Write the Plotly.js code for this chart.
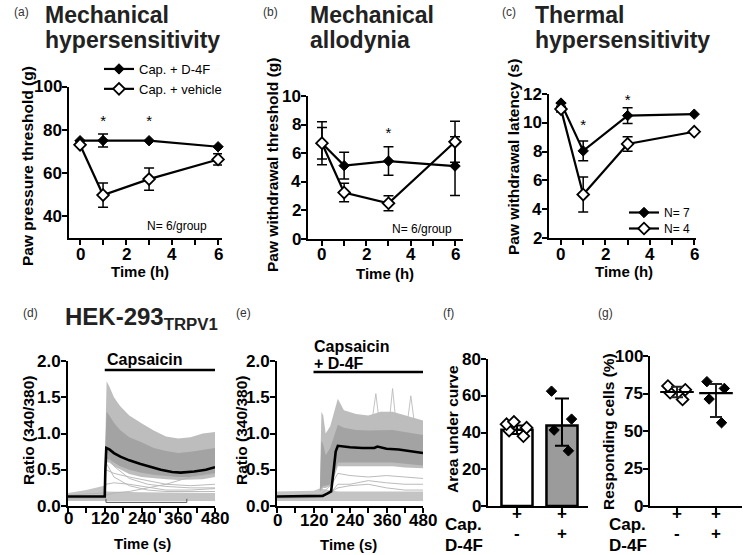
<!DOCTYPE html>
<html><head><meta charset="utf-8">
<script src="https://cdn.plot.ly/plotly-3.0.1.min.js"></script>
<style>html,body{margin:0;padding:0;background:#fff}#chart{width:744px;height:555px}</style>
</head><body><div id="chart"></div>
<script>
// ---------- DATA ----------
const timeH = [0, 1, 3, 6];
const hourTicks = [0, 2, 4, 6];

// (a) Mechanical hypersensitivity
const mhD4F = [75.1, 75.2, 75.1, 72.3];
const mhD4FErr = [null, 3.0, null, null];
const mhVeh = [73.2, 49.9, 57.3, 66.4];
const mhVehErr = [null, 5.6, 5.2, 2.6];
const mhStarX = [1, 3];
const mhStarY = [83.5, 83.5];
const mhTicks = [40, 60, 80, 100];

// (b) Mechanical allodynia
const maD4F = [6.7, 5.13, 5.45, 5.1];
const maD4FErr = [1.5, 0.93, 1.0, 2.05];
const maVeh = [6.7, 3.25, 2.5, 6.8];
const maVehErr = [1.1, 0.65, 0.52, 1.44];
const maStarX = [3];
const maStarY = [7.3];
const maTicks = [0, 2, 4, 6, 8, 10];

// (c) Thermal hypersensitivity
const thD4F = [11.37, 8.05, 10.5, 10.6];
const thD4FErr = [null, 0.68, 0.54, null];
const thVeh = [10.95, 5.02, 8.53, 9.38];
const thVehErr = [0.2, 1.22, 0.5, null];
const thStarX = [1, 3];
const thStarY = [9.75, 11.5];
const thTicks = [2, 4, 6, 8, 10, 12];

// (d) HEK-293 TRPV1, capsaicin
const secTicks = [0, 120, 240, 360, 480];
const ratioTicks = [0, 0.5, 1, 1.5, 2];
const ratioTickText = ['0.0', '0.5', '1.0', '1.5', '2.0'];
const tMeanD = [0, 120, 122, 125, 135, 150, 171, 200, 237, 270, 303, 340, 368, 412, 450, 480];
const meanD = [0.13, 0.13, 0.5, 0.8, 0.78, 0.73, 0.68, 0.63, 0.58, 0.54, 0.5, 0.47, 0.46, 0.475, 0.5, 0.535];
const bandDT = [122, 126, 135, 150, 170, 200, 240, 280, 320, 360, 400, 440, 480];
const bandDUp = [0.9, 1.72, 1.65, 1.5, 1.38, 1.25, 1.14, 1.04, 0.96, 0.93, 0.95, 1.0, 1.02];
const bandDLo = [0.5, 0.6, 0.6, 0.55, 0.5, 0.44, 0.4, 0.38, 0.37, 0.36, 0.36, 0.37, 0.4];
const coreDUp = [0.85, 1.3, 1.25, 1.15, 1.05, 0.95, 0.88, 0.8, 0.76, 0.73, 0.75, 0.78, 0.8];
const coreDLo = [0.55, 0.65, 0.64, 0.6, 0.55, 0.5, 0.46, 0.43, 0.41, 0.4, 0.4, 0.42, 0.45];
const baseDT = [0, 60, 118, 124, 240, 360, 480];
const baseDUp = [0.18, 0.22, 0.28, 0.2, 0.19, 0.18, 0.18];
const baseDLo = [0.07, 0.07, 0.07, 0.07, 0.07, 0.07, 0.07];
const sparseDT = [0, 118, 124, 150, 200, 260, 320, 400, 480];
const sparseD1 = [0.12, 0.14, 0.75, 0.55, 0.38, 0.3, 0.27, 0.25, 0.25];
const sparseD2 = [0.1, 0.12, 0.6, 0.4, 0.28, 0.22, 0.2, 0.2, 0.2];
const sparseD3 = [0.15, 0.18, 0.5, 0.45, 0.4, 0.35, 0.3, 0.28, 0.3];
const sparseD4 = [0.12, 0.15, 0.3, 0.32, 0.3, 0.26, 0.22, 0.22, 0.24];
const sparseD5 = [0.1, 0.1, 0.15, 0.18, 0.2, 0.25, 0.3, 0.4, 0.45];
const bracketDT = [124, 124, 388, 388];
const bracketDY = [0.1, 0.05, 0.05, 0.1];

// (e) HEK-293 TRPV1, capsaicin + D-4F
const tMeanE = [0, 140, 150, 165, 178, 185, 193, 200, 215, 240, 280, 320, 330, 360, 400, 440, 480];
const meanE = [0.13, 0.13, 0.14, 0.17, 0.2, 0.45, 0.75, 0.83, 0.82, 0.81, 0.8, 0.8, 0.82, 0.79, 0.78, 0.76, 0.73];
const bandET = [141, 146, 152, 160, 175, 190, 200, 220, 260, 300, 340, 380, 420, 480];
const bandEUp = [0.25, 1.3, 1.25, 1.0, 1.1, 1.35, 1.48, 1.32, 1.27, 1.25, 1.3, 1.3, 1.25, 1.18];
const bandELo = [0.2, 0.22, 0.25, 0.25, 0.28, 0.42, 0.55, 0.56, 0.56, 0.55, 0.55, 0.55, 0.53, 0.52];
const coreEUp = [0.22, 0.9, 0.85, 0.7, 0.8, 1.0, 1.12, 1.08, 1.05, 1.04, 1.05, 1.05, 1.02, 0.98];
const coreELo = [0.2, 0.25, 0.28, 0.28, 0.3, 0.48, 0.6, 0.6, 0.6, 0.6, 0.6, 0.6, 0.58, 0.56];
const baseET = [0, 120, 141, 200, 480];
const baseEUp = [0.2, 0.21, 0.24, 0.2, 0.2];
const baseELo = [0.07, 0.07, 0.07, 0.07, 0.07];
const sparseET = [0, 140, 180, 200, 240, 300, 360, 420, 480];
const sparseE1 = [0.12, 0.14, 0.3, 0.45, 0.42, 0.4, 0.42, 0.4, 0.38];
const sparseE2 = [0.1, 0.12, 0.2, 0.3, 0.3, 0.35, 0.32, 0.3, 0.3];
const sparseE3 = [0.13, 0.15, 0.2, 0.25, 0.28, 0.3, 0.25, 0.22, 0.22];
const spikeET = [300, 315, 325, 335, 345, 370, 380, 390, 410, 430, 440, 450, 480];
const spikeEY = [1.2, 1.25, 1.55, 1.2, 1.25, 1.2, 1.62, 1.2, 1.25, 1.2, 1.52, 1.2, 1.15];

// (f) Area under curve
const groupPos = [0, 1];
const aucMean = [41.5, 43.8];
const aucErrPlus = [2.3, 14.7];
const aucErrMinus = [2.3, 11.0];
const aucCap = [38, 41, 42.6, 44.5, 45.8];
const aucCapD4F = [62.5, 47.3, 41.3, 30];
const aucTicks = [0, 20, 40, 60, 80];

// (g) Responding cells (%)
const respMean = [76, 75.3];
const respErrPlus = [3.5, 6];
const respErrMinus = [3.5, 16];
const respCap = [80, 77.5, 75.5, 71];
const respCapD4F = [82.9, 78.4, 71.3, 55.5];
const respTicks = [0, 25, 50, 75, 100];

const capSigns = ['+', '+'];
const d4fSigns = ['-', '+'];

// ---------- HELPERS ----------
const W = 744, H = 555;
const px = x => x / W, py = y => 1 - y / H;
const FONT = 'Liberation Sans, Arial, sans-serif';
const baseAxis = {showline: true, linewidth: 2, linecolor: 'black', ticks: 'outside', ticklen: 5, tickwidth: 2,
  tickcolor: 'black', showgrid: false, zeroline: false, fixedrange: true, showticklabels: false};
function xa(l, r, range, tv, anchor, minorStep) {
  const o = Object.assign({}, baseAxis, {domain: [px(l), px(r)], range: range, tickmode: 'array',
    tickvals: tv, anchor: anchor});
  if (minorStep) o.minor = {dtick: minorStep, tick0: 0, ticks: 'outside', ticklen: 5, tickwidth: 2, tickcolor: 'black', showgrid: false};
  return o;
}
function ya(t, b, range, tv, anchor) {
  return Object.assign({}, baseAxis, {domain: [py(b), py(t)], range: range, tickmode: 'array',
    tickvals: tv, anchor: anchor});
}
const filledM = {symbol: 'diamond', size: 8, color: 'black', line: {color: 'black', width: 1}};
const openM = {symbol: 'diamond', size: 9, color: 'white', line: {color: 'black', width: 1.8}};
const err = (arr) => ({type: 'data', array: arr, color: 'black', thickness: 1.5, width: 5});
function series(xx, yy, e, marker, xaxis, yaxis, name, legend, show) {
  return {x: xx, y: yy, type: 'scatter', mode: 'lines+markers', xaxis: xaxis, yaxis: yaxis, name: name,
    line: {color: 'black', width: 2.2}, marker: marker, error_y: err(e), showlegend: !!show,
    legend: legend || 'legend', hoverinfo: 'skip', cliponaxis: false};
}
function stars(xx, yy, xaxis, yaxis) {
  return {x: xx, y: yy, type: 'scatter', mode: 'text', text: xx.map(() => '*'), xaxis: xaxis, yaxis: yaxis,
    textfont: {family: FONT, size: 15, color: 'black'}, showlegend: false, hoverinfo: 'skip', cliponaxis: false};
}
function band(t, up, lo, color, xaxis, yaxis) {
  return {x: t.concat(t.slice().reverse()), y: up.concat(lo.slice().reverse()), type: 'scatter', mode: 'lines',
    fill: 'toself', fillcolor: color, line: {width: 0, color: color}, xaxis: xaxis, yaxis: yaxis,
    showlegend: false, hoverinfo: 'skip'};
}
function thin(t, y, xaxis, yaxis, color, width) {
  return {x: t, y: y, type: 'scatter', mode: 'lines', line: {color: color || '#b3b3b3', width: width || 0.9},
    xaxis: xaxis, yaxis: yaxis, showlegend: false, hoverinfo: 'skip'};
}
function pts(pos, vals, marker, xaxis, yaxis) {
  return {type: 'box', x: vals.map(() => pos), y: vals, xaxis: xaxis, yaxis: yaxis, boxpoints: 'all',
    jitter: 1, pointpos: 0, width: 0.55, fillcolor: 'rgba(0,0,0,0)', line: {color: 'rgba(0,0,0,0)', width: 0},
    marker: marker, showlegend: false, hoverinfo: 'skip'};
}

// ---------- TRACES ----------
const data = [
  series(timeH, mhD4F, mhD4FErr, filledM, 'x', 'y', 'Cap. + D-4F', 'legend', true),
  series(timeH, mhVeh, mhVehErr, openM, 'x', 'y', 'Cap. + vehicle', 'legend', true),
  stars(mhStarX, mhStarY, 'x', 'y'),
  series(timeH, maD4F, maD4FErr, filledM, 'x2', 'y2', 'Cap. + D-4F'),
  series(timeH, maVeh, maVehErr, openM, 'x2', 'y2', 'Cap. + vehicle'),
  stars(maStarX, maStarY, 'x2', 'y2'),
  series(timeH, thD4F, thD4FErr, filledM, 'x3', 'y3', 'N= 7', 'legend2', true),
  series(timeH, thVeh, thVehErr, openM, 'x3', 'y3', 'N= 4', 'legend3', true),
  stars(thStarX, thStarY, 'x3', 'y3'),
  band(baseDT, baseDUp, baseDLo, '#c4c4c4', 'x4', 'y4'),
  band(bandDT, bandDUp, bandDLo, '#bdbdbd', 'x4', 'y4'),
  band(bandDT, coreDUp, coreDLo, '#a3a3a3', 'x4', 'y4'),
  thin(sparseDT, sparseD1, 'x4', 'y4'), thin(sparseDT, sparseD2, 'x4', 'y4'),
  thin(sparseDT, sparseD3, 'x4', 'y4'), thin(sparseDT, sparseD4, 'x4', 'y4'),
  thin(sparseDT, sparseD5, 'x4', 'y4'),
  thin(bracketDT, bracketDY, 'x4', 'y4', '#555', 1),
  thin(tMeanD, meanD, 'x4', 'y4', 'black', 2.6),
  band(baseET, baseEUp, baseELo, '#c4c4c4', 'x5', 'y5'),
  band(bandET, bandEUp, bandELo, '#bdbdbd', 'x5', 'y5'),
  band(bandET, coreEUp, coreELo, '#a3a3a3', 'x5', 'y5'),
  thin(sparseET, sparseE1, 'x5', 'y5'), thin(sparseET, sparseE2, 'x5', 'y5'),
  thin(sparseET, sparseE3, 'x5', 'y5'), thin(spikeET, spikeEY, 'x5', 'y5', '#bbbbbb', 0.9),
  thin(tMeanE, meanE, 'x5', 'y5', 'black', 2.6),
  {type: 'bar', x: groupPos, y: aucMean, xaxis: 'x6', yaxis: 'y6', width: 0.69,
   marker: {color: ['white', '#9b9b9b'], line: {color: 'black', width: 2.5}},
   error_y: {type: 'data', array: aucErrPlus, arrayminus: aucErrMinus, symmetric: false, color: 'black', thickness: 2, width: 7},
   showlegend: false, hoverinfo: 'skip'},
  pts(0, aucCap, {symbol: 'diamond', size: 9, color: 'white', line: {color: 'black', width: 1.8}}, 'x6', 'y6'),
  pts(1, aucCapD4F, {symbol: 'diamond', size: 8, color: 'black', line: {color: 'black', width: 1}}, 'x6', 'y6'),
  pts(0, respCap, {symbol: 'diamond', size: 9, color: 'white', line: {color: 'black', width: 1.8}}, 'x7', 'y7'),
  pts(1, respCapD4F, {symbol: 'diamond', size: 8, color: 'black', line: {color: 'black', width: 1}}, 'x7', 'y7'),
  {type: 'scatter', mode: 'markers', x: groupPos, y: respMean, xaxis: 'x7', yaxis: 'y7',
   marker: {symbol: 'line-ew-open', size: 24, color: 'black', line: {color: '#222', width: 2.2}},
   error_y: {type: 'data', array: respErrPlus, arrayminus: respErrMinus, symmetric: false, color: '#222', thickness: 2, width: 6},
   showlegend: false, hoverinfo: 'skip', cliponaxis: false}
];

// ---------- ANNOTATIONS ----------
const annotations = [];
function ann(text, x, y, o) {
  o = o || {};
  annotations.push({text: o.bold ? '<b>' + text + '</b>' : text, x: px(x), y: py(y), xref: 'paper', yref: 'paper', showarrow: false,
    xanchor: o.xa || 'center', yanchor: 'middle', textangle: o.rot || 0,
    font: {family: FONT, size: o.size || 12, color: o.color || 'black'}});
}
// tick labels drawn through each axis' own scale
const TICK = 17;
function xTicks(axis, vals, ypx) {
  vals.forEach(v => annotations.push({text: '<b>' + v + '</b>', x: v, xref: axis, y: py(ypx), yref: 'paper',
    showarrow: false, xanchor: 'center', yanchor: 'middle', font: {family: FONT, size: TICK, color: 'black'}}));
}
function yTicks(axis, vals, labels, xpx) {
  vals.forEach((v, i) => annotations.push({text: '<b>' + labels[i] + '</b>', x: px(xpx), xref: 'paper', y: v, yref: axis,
    showarrow: false, xanchor: 'right', yanchor: 'middle', font: {family: FONT, size: TICK, color: 'black'}}));
}
xTicks('x', hourTicks, 254); xTicks('x2', hourTicks, 255); xTicks('x3', hourTicks, 254);
xTicks('x4', secTicks, 518); xTicks('x5', secTicks, 520);
yTicks('y', mhTicks, mhTicks, 64); yTicks('y2', maTicks, maTicks, 303); yTicks('y3', thTicks, thTicks, 544);
yTicks('y4', ratioTicks, ratioTickText, 63); yTicks('y5', ratioTicks, ratioTickText, 272);
yTicks('y6', aucTicks, aucTicks, 483); yTicks('y7', respTicks, respTicks, 645);

[['(a)', 21, 12], ['(b)', 270, 12], ['(c)', 509, 12], ['(d)', 30, 313], ['(e)', 243, 313], ['(f)', 448, 313], ['(g)', 605, 313]]
  .forEach(a => ann(a[0], a[1], a[2], {size: 12, color: '#333'}));
[['Mechanical', 43, 15], ['hypersensitivity', 43, 40], ['Mechanical', 308, 15], ['allodynia', 308, 40],
 ['Thermal', 533, 15], ['hypersensitivity', 533, 40]]
  .forEach(a => ann(a[0], a[1], a[2], {size: 23, bold: true, xa: 'left', color: '#222'}));
ann('HEK-293<sub>TRPV1</sub>', 63, 318, {size: 24, bold: true, xa: 'left', color: '#222'});
[['Paw pressure threshold (g)', 27, 166], ['Paw withdrawal threshold (g)', 272, 165], ['Paw withdrawal latency (s)', 513, 157],
 ['Ratio (340/380)', 28, 431], ['Ratio (340/380)', 241, 431], ['Area under curve', 452, 429], ['Responding cells (%)', 608, 432]]
  .forEach(a => ann(a[0], a[1], a[2], {size: 15.5, bold: true, rot: -90}));
[['Time (h)', 140, 271], ['Time (h)', 385, 273], ['Time (h)', 624, 271], ['Time (s)', 142, 543], ['Time (s)', 348, 544]]
  .forEach(a => ann(a[0], a[1], a[2], {size: 15, bold: true}));
ann('N= 6/group', 145, 226, {size: 12, xa: 'left'});
ann('N= 6/group', 390, 229, {size: 12, xa: 'left'});
ann('Capsaicin', 105, 359, {size: 16, bold: true, xa: 'left'});
ann('Capsaicin', 312, 346, {size: 16, bold: true, xa: 'left'});
ann('+ D-4F', 312, 363, {size: 16, bold: true, xa: 'left'});
[[443, 'x6'], [607, 'x7']].forEach(function (g) {
  ann('Cap.', g[0], 524, {size: 17, bold: true, xa: 'left'});
  ann('D-4F', g[0], 545, {size: 17, bold: true, xa: 'left'});
  groupPos.forEach(function (p, i) {
    annotations.push({text: '<b>' + capSigns[i] + '</b>', x: p, xref: g[1], y: py(525), yref: 'paper', showarrow: false,
      font: {family: FONT, size: 17, color: 'black'}});
    annotations.push({text: '<b>' + d4fSigns[i] + '</b>', x: p, xref: g[1], y: py(545), yref: 'paper', showarrow: false,
      font: {family: FONT, size: 17, color: 'black'}});
  });
});

const shapes = [
  {type: 'line', xref: 'x4', yref: 'paper', x0: 120, x1: 480, y0: py(370), y1: py(370), line: {color: 'black', width: 2.5}},
  {type: 'line', xref: 'x5', yref: 'paper', x0: 120, x1: 480, y0: py(372), y1: py(372), line: {color: 'black', width: 2.5}}
];

const legendBase = {xanchor: 'left', yanchor: 'top', bgcolor: 'rgba(0,0,0,0)', tracegroupgap: 0, itemwidth: 30};
const layout = {
  width: W, height: H, margin: {l: 0, r: 0, t: 0, b: 0}, paper_bgcolor: 'white', plot_bgcolor: 'rgba(0,0,0,0)',
  font: {family: FONT, color: 'black'}, showlegend: true, barmode: 'overlay', boxmode: 'overlay',
  xaxis: xa(69, 222, [-0.48, 6.17], hourTicks, 'y', 1),
  yaxis: ya(87, 238, [30, 100], mhTicks, 'x'),
  xaxis2: xa(308, 463, [-0.63, 6.36], hourTicks, 'y2', 1),
  yaxis2: ya(96, 239, [0, 10], maTicks, 'x2'),
  xaxis3: xa(549, 696, [-0.54, 6.08], hourTicks, 'y3', 1),
  yaxis3: ya(94, 238, [2, 12], thTicks, 'x3'),
  xaxis4: xa(68, 215, [0, 480], secTicks, 'y4', 60),
  yaxis4: ya(361, 506, [0, 2], ratioTicks, 'x4'),
  xaxis5: xa(277, 423, [0, 480], secTicks, 'y5', 60),
  yaxis5: ya(361, 506, [0, 2], ratioTicks, 'x5'),
  xaxis6: xa(488, 588, [-0.644, 1.578], groupPos, 'y6', 0),
  yaxis6: ya(359, 506, [0, 80], aucTicks, 'x6'),
  xaxis7: xa(650, 742, [-0.692, 1.667], groupPos, 'y7', 0),
  yaxis7: ya(356, 506, [0, 100], respTicks, 'x7'),
  legend: Object.assign({}, legendBase, {x: px(99), y: py(54), font: {family: FONT, size: 13, color: 'black'}}),
  legend2: Object.assign({}, legendBase, {x: px(624), y: py(198), font: {family: FONT, size: 12, color: 'black'}}),
  legend3: Object.assign({}, legendBase, {x: px(624), y: py(214), font: {family: FONT, size: 12, color: 'black'}}),
  annotations: annotations, shapes: shapes
};
Plotly.newPlot('chart', data, layout, {staticPlot: true, displayModeBar: false});
</script></body></html>
